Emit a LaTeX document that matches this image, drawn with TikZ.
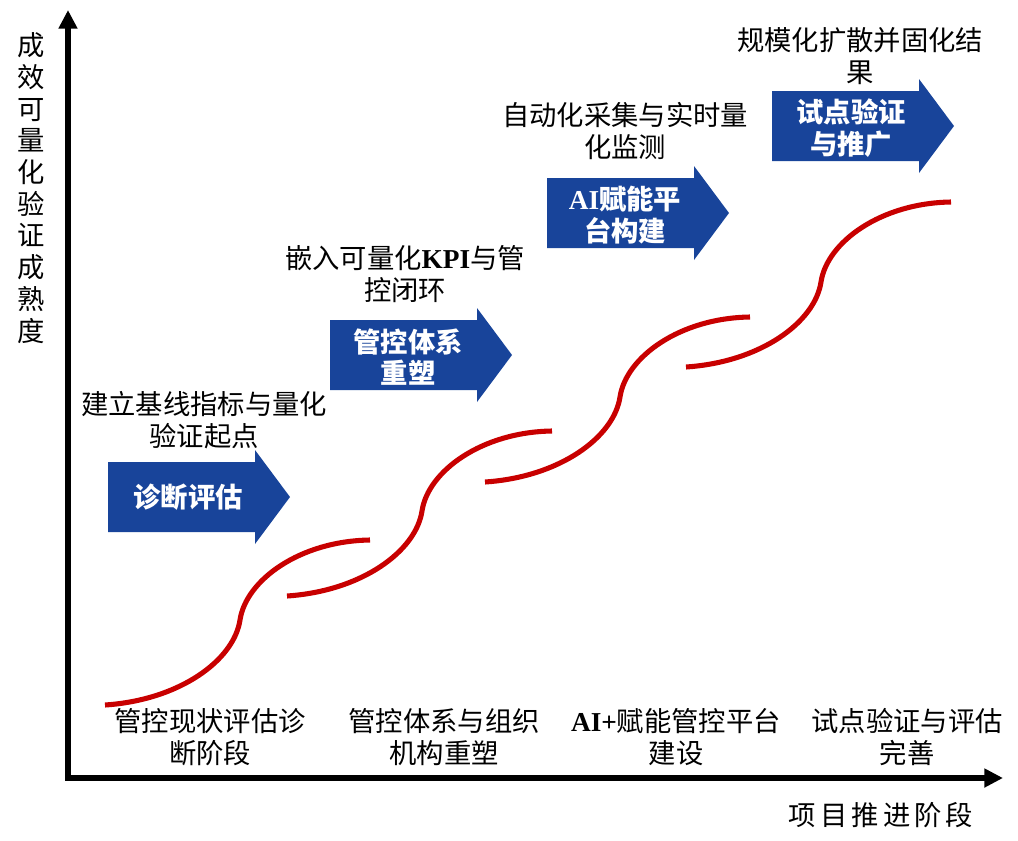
\documentclass[tikz,border=0pt]{standalone}
\usepackage{fontspec}
\setmainfont{Noto Sans CJK SC}
\newfontfamily\lat{Liberation Serif}
\usetikzlibrary{arrows.meta}
\definecolor{arrowblue}{RGB}{24,68,154}
\definecolor{curvered}{RGB}{200,0,0}
\begin{document}
\begin{tikzpicture}[x=0.75pt,y=-0.75pt,
  lbl/.style={font=\fontsize{20.5}{23.5}\selectfont, align=center, inner sep=0pt, text=black},
  axlbl/.style={font=\fontsize{20.5}{23.8}\selectfont\addfontfeatures{LetterSpace=15}, align=center, inner sep=0pt, text=black},
  arrtxt/.style={font=\fontsize{20.5}{23.5}\selectfont\bfseries, align=center, inner sep=0pt, text=white},
  axisline/.style={line width=3.8pt, {Triangle[length=14pt,width=13.5pt]}-{Triangle[length=14pt,width=13.5pt]}},
  scurve/.style={draw=curvered, line width=3.8pt},
  bluearrow/.pic={\fill[arrowblue] (0,0) -- (147,0) -- (147,-12) -- (182,35) -- (147,82) -- (147,70) -- (0,70) -- cycle;},
  wave/.pic={\draw[scurve] (0,0) .. controls (75,-5) and (129,-45) .. (135,-85) .. controls (141,-125) and (195,-164) .. (265,-165);}
]
\useasboundingbox (0,0) rectangle (1018,840);

% axes
\coordinate (ytop) at (68,10);
\coordinate (xend) at (1003,778);
\draw[axisline] (ytop) |- (xend);

\node[axlbl] (ylab) at (31,188) {成\\效\\可\\量\\化\\验\\证\\成\\熟\\度};
\node[axlbl] (xlab) at (881,815) {项目推进阶段};

% red S-curves
\pic at (105,705) {wave};
\pic at (287,596) {wave};
\pic at (485,482) {wave};
\pic at (686,367) {wave};

% blue arrows
\pic at (108,462) {bluearrow};
\pic at (330,320) {bluearrow};
\pic at (547,178) {bluearrow};
\pic at (772,91) {bluearrow};

\node[arrtxt] (a1) at (188,497) {诊断评估};
\node[arrtxt] (a2) at (408,357) {管控体系\\重塑};
\node[arrtxt] (a3) at (625,215) {{\lat AI}赋能平\\台构建};
\node[arrtxt] (a4) at (851,128) {试点验证\\与推广};

% labels above arrows
\node[lbl] (t1) at (204,420) {建立基线指标与量化\\验证起点};
\node[lbl] (t2) at (405,274) {嵌入可量化{\lat\bfseries KPI}与管\\控闭环};
\node[lbl] (t3) at (625,131) {自动化采集与实时量\\化监测};
\node[lbl] (t4) at (860,56) {规模化扩散并固化结\\果};

% stage labels
\node[lbl] (s1) at (210,737) {管控现状评估诊\\断阶段};
\node[lbl] (s2) at (444,737) {管控体系与组织\\机构重塑};
\node[lbl] (s3) at (676,737) {{\lat\bfseries AI+}赋能管控平台\\建设};
\node[lbl] (s4) at (907,737) {试点验证与评估\\完善};
\end{tikzpicture}
\end{document}
